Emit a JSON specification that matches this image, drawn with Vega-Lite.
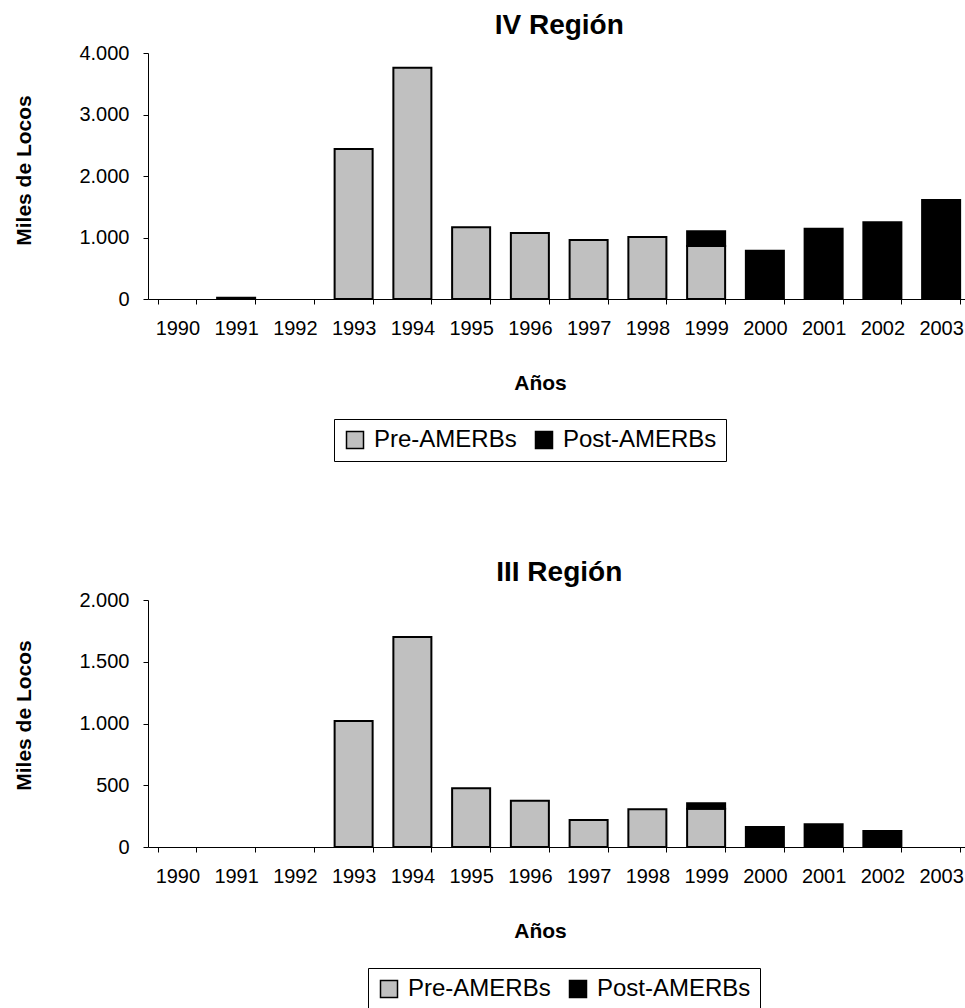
{
  "$schema": "https://vega.github.io/schema/vega-lite/v6.json",
  "padding": {"left": 13, "top": 12, "right": 0, "bottom": 0},
  "spacing": 97,
  "background": "white",
  "config": {
    "font": "Liberation Sans",
    "view": {"stroke": null},
    "axis": {
      "labelFont": "Liberation Sans", "labelFontSize": 20, "labelColor": "#000",
      "domainColor": "#000", "tickColor": "#000", "domainWidth": 1, "tickWidth": 1, "tickSize": 5,
      "titleFont": "Liberation Sans", "titleFontSize": 21, "titleFontWeight": "bold", "titleColor": "#000",
      "grid": false
    },
    "title": {"font": "Liberation Sans", "fontSize": 28, "fontWeight": "bold", "color": "#000", "anchor": "middle", "frame": "group", "offset": 3},
    "legend": {
      "strokeColor": "#000", "strokeWidth": 1, "padding": 9, "fillColor": "white",
      "labelFont": "Liberation Sans", "labelFontSize": 24, "labelColor": "#000", "labelOffset": 7,
      "symbolType": "square", "symbolSize": 289, "symbolStrokeColor": "#000", "symbolStrokeWidth": 1.5,
      "columnPadding": 15, "direction": "horizontal", "orient": "none"
    }
  },
  "datasets": {
    "iv": [
      {"anio": 1990, "tipo": "Pre-AMERBs", "miles": 0},
      {"anio": 1991, "tipo": "Pre-AMERBs", "miles": 22},
      {"anio": 1992, "tipo": "Pre-AMERBs", "miles": 0},
      {"anio": 1993, "tipo": "Pre-AMERBs", "miles": 2440},
      {"anio": 1994, "tipo": "Pre-AMERBs", "miles": 3760},
      {"anio": 1995, "tipo": "Pre-AMERBs", "miles": 1166},
      {"anio": 1996, "tipo": "Pre-AMERBs", "miles": 1073},
      {"anio": 1997, "tipo": "Pre-AMERBs", "miles": 959},
      {"anio": 1998, "tipo": "Pre-AMERBs", "miles": 1008},
      {"anio": 1999, "tipo": "Pre-AMERBs", "miles": 862},
      {"anio": 1999, "tipo": "Post-AMERBs", "miles": 238},
      {"anio": 2000, "tipo": "Post-AMERBs", "miles": 785},
      {"anio": 2001, "tipo": "Post-AMERBs", "miles": 1143},
      {"anio": 2002, "tipo": "Post-AMERBs", "miles": 1250},
      {"anio": 2003, "tipo": "Post-AMERBs", "miles": 1609}
    ],
    "iii": [
      {"anio": 1990, "tipo": "Pre-AMERBs", "miles": 0},
      {"anio": 1991, "tipo": "Pre-AMERBs", "miles": 0},
      {"anio": 1992, "tipo": "Pre-AMERBs", "miles": 0},
      {"anio": 1993, "tipo": "Pre-AMERBs", "miles": 1020},
      {"anio": 1994, "tipo": "Pre-AMERBs", "miles": 1700},
      {"anio": 1995, "tipo": "Pre-AMERBs", "miles": 475},
      {"anio": 1996, "tipo": "Pre-AMERBs", "miles": 375},
      {"anio": 1997, "tipo": "Pre-AMERBs", "miles": 219},
      {"anio": 1998, "tipo": "Pre-AMERBs", "miles": 305},
      {"anio": 1999, "tipo": "Pre-AMERBs", "miles": 310},
      {"anio": 1999, "tipo": "Post-AMERBs", "miles": 44},
      {"anio": 2000, "tipo": "Post-AMERBs", "miles": 162},
      {"anio": 2001, "tipo": "Post-AMERBs", "miles": 184},
      {"anio": 2002, "tipo": "Post-AMERBs", "miles": 130},
      {"anio": 2003, "tipo": "Post-AMERBs", "miles": 0}
    ]
  },
  "vconcat": [
    {
      "title": {"text": "IV Región"},
      "width": 822.5,
      "height": 246,
      "data": {"name": "iv"},
      "transform": [{"filter": "datum.miles > 0"}],
      "mark": {"type": "bar", "stroke": "#000", "strokeWidth": 2},
      "encoding": {
        "x": {
          "field": "anio", "type": "ordinal",
          "scale": {"domain": [1990,1991,1992,1993,1994,1995,1996,1997,1998,1999,2000,2001,2002,2003], "paddingInner": 0.353, "paddingOuter": 0.1765},
          "axis": {"title": "Años", "labelAngle": 0, "tickBand": "extent", "labelPadding": 14, "titlePadding": 34, "titleX": 392}
        },
        "y": {
          "field": "miles", "type": "quantitative", "stack": "zero",
          "scale": {"domain": [0, 4000], "nice": false},
          "axis": {"title": "Miles de Locos", "values": [0,1000,2000,3000,4000], "labelExpr": "replace(format(datum.value, ',.0f'), ',', '.')", "labelPadding": 14, "titlePadding": 44, "titleY": 117}
        },
        "color": {
          "field": "tipo", "type": "nominal",
          "scale": {"domain": ["Pre-AMERBs", "Post-AMERBs"], "range": ["#c0c0c0", "#000000"]},
          "legend": {"title": null, "orient": "none", "legendX": 186, "legendY": 366, "direction": "horizontal"}
        },
        "order": {"field": "tipo", "sort": "descending"}
      }
    },
    {
      "title": {"text": "III Región"},
      "width": 822.5,
      "height": 247,
      "data": {"name": "iii"},
      "transform": [{"filter": "datum.miles > 0"}],
      "mark": {"type": "bar", "stroke": "#000", "strokeWidth": 2},
      "encoding": {
        "x": {
          "field": "anio", "type": "ordinal",
          "scale": {"domain": [1990,1991,1992,1993,1994,1995,1996,1997,1998,1999,2000,2001,2002,2003], "paddingInner": 0.353, "paddingOuter": 0.1765},
          "axis": {"title": "Años", "labelAngle": 0, "tickBand": "extent", "labelPadding": 14, "titlePadding": 34, "titleX": 392}
        },
        "y": {
          "field": "miles", "type": "quantitative", "stack": "zero",
          "scale": {"domain": [0, 2000], "nice": false},
          "axis": {"title": "Miles de Locos", "values": [0,500,1000,1500,2000], "labelExpr": "replace(format(datum.value, ',.0f'), ',', '.')", "labelPadding": 14, "titlePadding": 44, "titleY": 115}
        },
        "color": {
          "field": "tipo", "type": "nominal",
          "scale": {"domain": ["Pre-AMERBs", "Post-AMERBs"], "range": ["#c0c0c0", "#000000"]},
          "legend": {"title": null, "orient": "none", "legendX": 220, "legendY": 368, "direction": "horizontal"}
        },
        "order": {"field": "tipo", "sort": "descending"}
      }
    }
  ],
  "resolve": {"scale": {"x": "independent", "y": "independent", "color": "independent"}, "legend": {"color": "independent"}}
}
